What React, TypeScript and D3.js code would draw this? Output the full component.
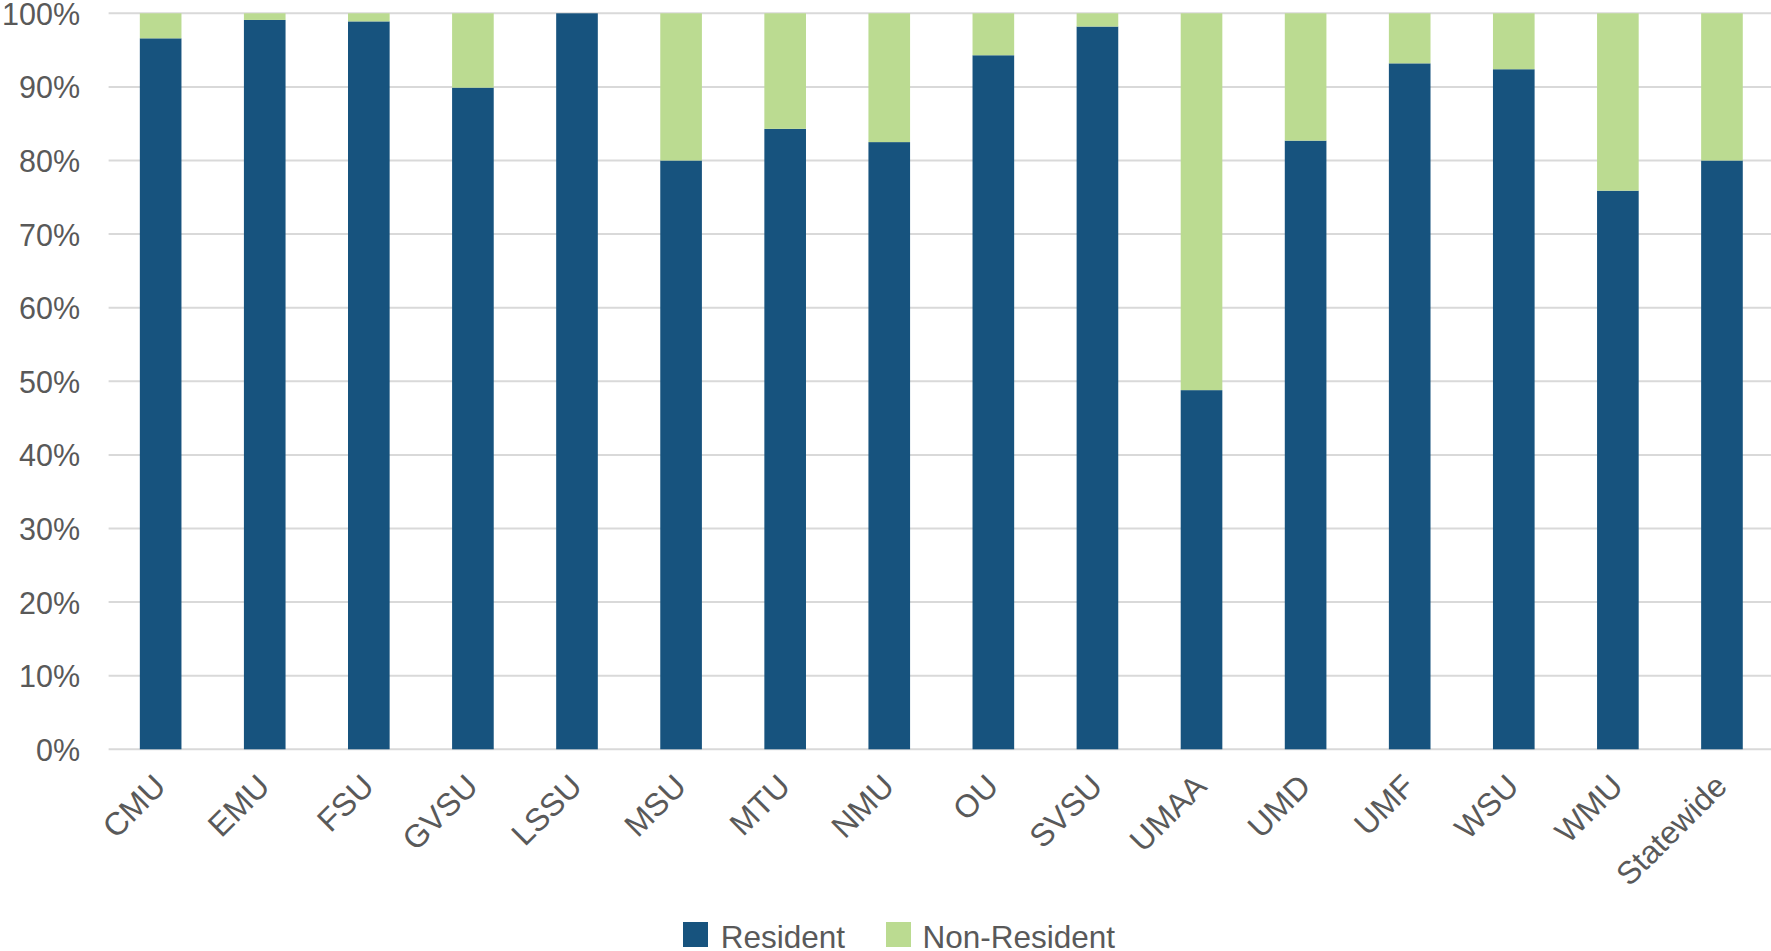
import React from "react";
import * as d3 from "d3";

const categories = ["CMU","EMU","FSU","GVSU","LSSU","MSU","MTU","NMU","OU","SVSU","UMAA","UMD","UMF","WSU","WMU","Statewide"];
const resident = [96.6,99.1,98.9,89.9,100,80.0,84.3,82.5,94.3,98.2,48.8,82.7,93.2,92.4,75.9,80.0];
const nonResident = resident.map(v => 100 - v);
const yTicks = [0,10,20,30,40,50,60,70,80,90,100];
const seriesNames = ["Resident","Non-Resident"];
const colors = ["#17537E","#BBDB91"];

const W = 1771, H = 951;
const left = 108.6, right = 1774, top = 13.3, bottom = 749.3;
const font = "'Liberation Sans', Arial, sans-serif";
const textColor = "#595959";

export default function App() {
  const x = d3.scaleBand<string>().domain(categories).range([left, right]).paddingInner(0.6).paddingOuter(0.3);
  const y = d3.scaleLinear().domain([0, 100]).range([bottom, top]);
  const rows = categories.map((c, i) => ({ c, r: resident[i], n: nonResident[i] }));
  const stack = d3.stack<any>().keys(["r", "n"])(rows);

  return (
    <svg width={W} height={H} style={{ position: "absolute", left: 0, top: 0, background: "#fff" }}>
      {yTicks.map(t => (
        <g key={t}>
          <line x1={left} x2={right} y1={y(t)} y2={y(t)} stroke="#D9D9D9" strokeWidth={2} />
          <text x={80} y={y(t)} dy="0.38em" textAnchor="end" fontFamily={font} fontSize={30.5} fill={textColor}>{t}%</text>
        </g>
      ))}
      {stack.map((s, si) => (
        <g key={si} fill={colors[si]}>
          {s.map((d, i) => (
            <rect key={i} x={x(categories[i])} width={x.bandwidth()} y={y(d[1])} height={Math.max(0, y(d[0]) - y(d[1]))} />
          ))}
        </g>
      ))}
      {categories.map(c => {
        const cx = (x(c) as number) + x.bandwidth() / 2 - 1;
        const cy = bottom + 31;
        return (
          <text key={c} x={cx} y={cy} dy="0.35em" textAnchor="end" fontFamily={font} fontSize={32} fill={textColor}
            transform={`rotate(-45 ${cx} ${cy})`}>{c}</text>
        );
      })}
      <g fontFamily={font} fontSize={31.5} fill={textColor}>
        <rect x={683} y={922} width={25} height={25} fill={colors[0]} />
        <text x={720.7} y={947.5}>{seriesNames[0]}</text>
        <rect x={886} y={922} width={25} height={25} fill={colors[1]} />
        <text x={922.5} y={947.5}>{seriesNames[1]}</text>
      </g>
    </svg>
  );
}
